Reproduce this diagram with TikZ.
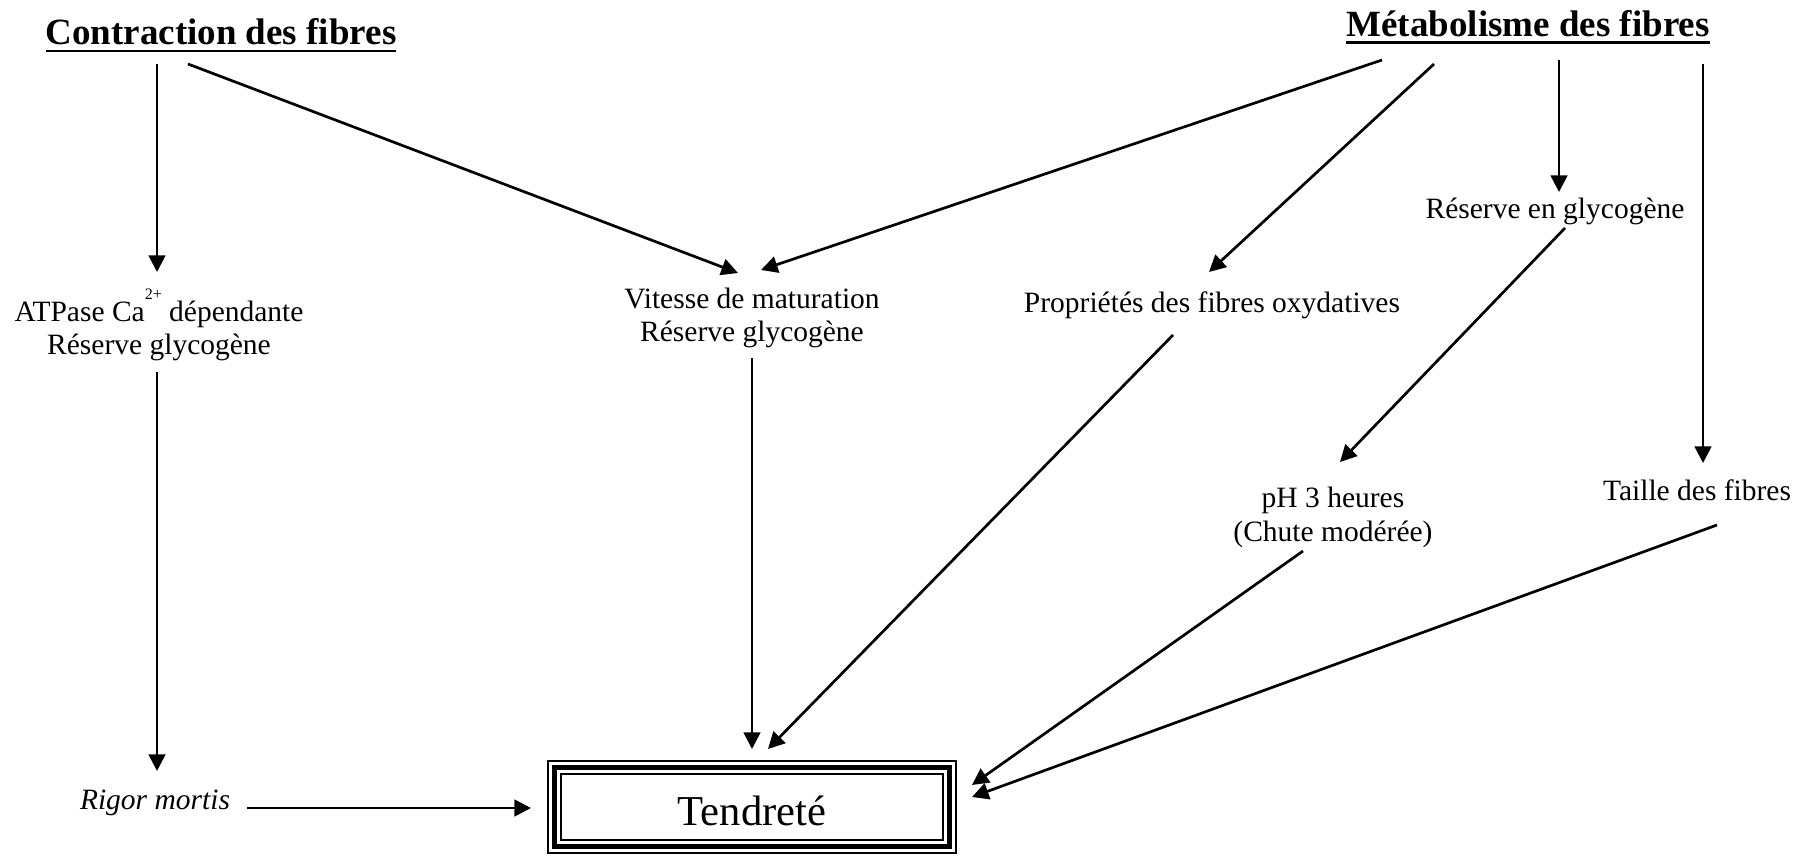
\documentclass[tikz,border=0pt]{standalone}
\usepackage{fontspec}
\setmainfont{Liberation Serif}
\usetikzlibrary{arrows.meta}
\begin{document}
\begin{tikzpicture}[x=0.5pt,y=-0.5pt,
  txt/.style={font=\fontsize{14.75}{16.5}\selectfont, inner sep=0pt, outer sep=0pt, align=center},
  ttl/.style={font=\fontsize{18.5}{20}\selectfont\bfseries, inner sep=0pt, outer sep=0pt},
  ul/.style={line width=1.4pt},
  arr/.style={-{Triangle[length=8.3pt,width=8.3pt]}, line width=1.35pt},
  seg/.style={line width=1.35pt}]
\useasboundingbox (0,0) rectangle (1798,856);

% titles
\node[ttl, anchor=base] (contr) at (221,45) {Contraction des fibres};
\draw[ul] ([yshift=-3pt]contr.base west) -- ([yshift=-3pt]contr.base east);
\node[ttl, anchor=base] (metab) at (1528,37) {Métabolisme des fibres};
\draw[ul] ([yshift=-2.75pt]metab.base west) -- ([yshift=-2.75pt]metab.base east);

% text nodes
\node[txt] (atp) at (159,331) {ATPase Ca\raisebox{11pt}[0pt][0pt]{\fontsize{8}{8}\selectfont 2+} dépendante\\Réserve glycogène};
\node[txt] (vit) at (752,318) {Vitesse de maturation\\Réserve glycogène};
\node[txt, anchor=base] (prop) at (1212,312) {Propriétés des fibres oxydatives};
\node[txt, anchor=base] (resgly) at (1555,218) {Réserve en glycogène};
\node[txt] (ph) at (1333,517) {pH 3 heures\\[0.5pt](Chute modérée)};
\node[txt, anchor=base] (taille) at (1697,500) {Taille des fibres};
\node[txt, anchor=base, font=\fontsize{14.75}{16.5}\selectfont\itshape] (rigor) at (155,809) {Rigor mortis};

% Tendreté box
\node[draw, line width=1.1pt, inner sep=0pt, outer sep=0pt, minimum width=191pt, minimum height=33pt,
      text height=18pt, text depth=0pt, font=\fontsize{21.3}{24}\selectfont] (tend) at (752,807) {Tendreté};
\draw[line width=2.5pt] ([shift={(-3.25pt,3.25pt)}]tend.north west) rectangle ([shift={(3.25pt,-3.25pt)}]tend.south east);
\draw[line width=1.1pt] ([shift={(-6.5pt,6.5pt)}]tend.north west) rectangle ([shift={(6.5pt,-6.5pt)}]tend.south east);

% connector end points
\coordinate (c1s) at (157,64);   \coordinate (c1e) at (157,272);
\coordinate (c2s) at (188,64);   \coordinate (c2e) at (738,273);
\coordinate (m1s) at (1382,60);  \coordinate (m1e) at (761,270);
\coordinate (m2s) at (1434,64);  \coordinate (m2e) at (1209,272);
\coordinate (m3s) at (1559,60);  \coordinate (m3e) at (1559,192);
\coordinate (m4s) at (1703,64);  \coordinate (m4e) at (1703,463);
\coordinate (rgs) at (1565,228); \coordinate (rge) at (1340,462);
\coordinate (ats) at (157,372);  \coordinate (ate) at (157,771);
\coordinate (rms) at (247,808);  \coordinate (rme) at (531,808);
\coordinate (vts) at (752,358);  \coordinate (vte) at (752,749);
\coordinate (prs) at (1173,335); \coordinate (pre) at (768,749);
\coordinate (phs) at (1303,551); \coordinate (phe) at (972,785);
\coordinate (tas) at (1717,525); \coordinate (tae) at (972,797);

% connectors
\draw[arr] (c1s) -- (c1e);
\draw[arr] (c2s) -- (c2e);
\draw[arr] (m1s) -- (m1e);
\draw[arr] (m2s) -- (m2e);
\draw[arr] (m3s) -- (m3e);
\draw[arr] (m4s) -- (m4e);
\draw[arr] (rgs) -- (rge);
\draw[arr] (ats) -- (ate);
\draw[arr] (rms) -- (rme);
\draw[arr] (vts) -- (vte);
\draw[arr] (prs) -- (pre);
\draw[arr] (phs) -- (phe);
\draw[arr] (tas) -- (tae);
\end{tikzpicture}
\end{document}
